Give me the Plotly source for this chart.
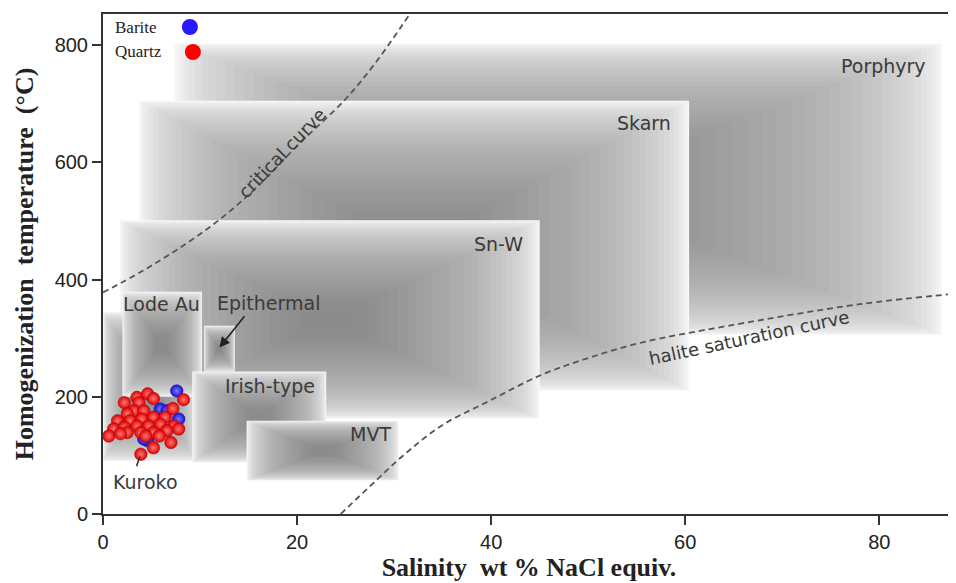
import plotly.graph_objects as go

# ---------------- data ----------------
# deposit-type fields: salinity (wt% NaCl eq.) range and temperature (°C) range
field_names = ["Porphyry", "Skarn", "Sn-W", "Epithermal", "Kuroko", "Lode Au", "Irish-type", "MVT"]
field_sal_min = [7.3, 3.7, 1.7, 10.4, 0.0, 2.0, 9.2, 14.8]
field_sal_max = [86.5, 60.4, 45.0, 13.6, 9.6, 10.2, 23.0, 30.5]
field_t_min = [305, 210, 162, 243, 90, 200, 88, 57]
field_t_max = [803, 705, 501, 321, 345, 379, 243, 159]

# field label positions
label_text = ["Porphyry", "Skarn", "Sn-W", "Lode Au", "Epithermal", "Irish-type", "MVT", "Kuroko"]
label_x = [80.4, 55.8, 40.8, 6.0, 17.1, 17.2, 27.6, 4.4]
label_y = [764, 667, 461, 358, 360, 218, 136, 54]

# curves
critical_sal = [0, 4, 8, 12, 16, 20, 25, 28, 31.5, 32.5]
critical_t = [378, 414, 455, 502, 560, 628, 708, 768, 850, 875]
halite_sal = [24.5, 28, 31.3, 35, 39.7, 45, 50, 55.4, 64.4, 78, 88]
halite_t = [0, 55, 105, 152, 192, 236, 266, 292, 321, 358, 376]

# fluid inclusion measurements
barite_sal = [7.6, 5.9, 6.6, 7.8, 4.6, 4.2]
barite_t = [210, 179, 176, 162, 125, 128]
quartz_sal = [8.3, 2.2, 3.5, 4.6, 5.2, 3.7, 3.2, 4.2, 2.5, 1.5, 2.8, 4.0, 5.2, 6.4, 7.2,
              1.1, 2.2, 3.5, 4.7, 5.9, 7.3, 2.5, 3.9, 5.2, 6.6, 7.8, 0.6, 1.8, 4.4,
              5.8, 7.0, 5.2, 3.9]
quartz_t = [195, 190, 199, 205, 197, 190, 176, 176, 171, 159, 159, 162, 165, 165, 180,
            145, 148, 150, 150, 153, 150, 139, 139, 139, 142, 145, 133, 137, 133,
            133, 122, 113, 102]

x_ticks = [0, 20, 40, 60, 80]
y_ticks = [0, 200, 400, 600, 800]

# ---------------- figure ----------------
fig = go.Figure()

shapes = []
N = 30
for x0, x1, y0, y1 in zip(field_sal_min, field_sal_max, field_t_min, field_t_max):
    w = x1 - x0
    h = y1 - y0
    shapes.append(dict(type="rect", xref="x", yref="y", x0=x0, x1=x1, y0=y0, y1=y1,
                       fillcolor="rgb(251,251,251)", line=dict(width=0), layer="below"))
    for k in range(N):
        t = 0.43 * ((k + 1) / N) ** 1.7
        shapes.append(dict(type="rect", xref="x", yref="y",
                           x0=x0 + t * w, x1=x1 - t * w, y0=y0 + t * h, y1=y1 - t * h,
                           fillcolor="rgba(55,55,55,0.028)", line=dict(width=0), layer="below"))

# legend keys (pixel-sized circles)
shapes.append(dict(type="circle", xref="paper", yref="paper", xsizemode="pixel", ysizemode="pixel",
                   xanchor=0.102, yanchor=0.974, x0=-8, x1=8, y0=-8, y1=8,
                   fillcolor="rgb(40,25,255)", line=dict(width=0)))
shapes.append(dict(type="circle", xref="paper", yref="paper", xsizemode="pixel", ysizemode="pixel",
                   xanchor=0.1055, yanchor=0.924, x0=-8, x1=8, y0=-8, y1=8,
                   fillcolor="rgb(255,0,0)", line=dict(width=0)))

curve_style = dict(color="#555555", width=1.8, dash="6px,4px", shape="spline")
fig.add_trace(go.Scatter(x=critical_sal, y=critical_t, mode="lines", line=curve_style,
                         name="critical curve", showlegend=False, hoverinfo="skip"))
fig.add_trace(go.Scatter(x=halite_sal, y=halite_t, mode="lines", line=curve_style,
                         name="halite saturation curve", showlegend=False, hoverinfo="skip"))

fig.add_trace(go.Scatter(x=barite_sal, y=barite_t, mode="markers", name="Barite", showlegend=False,
                         marker=dict(size=12.5, color="rgb(25,15,215)",
                                     gradient=dict(type="radial", color="rgb(120,120,255)"),
                                     line=dict(width=0.5, color="rgb(10,10,150)"))))
fig.add_trace(go.Scatter(x=quartz_sal, y=quartz_t, mode="markers", name="Quartz", showlegend=False,
                         marker=dict(size=12.5, color="rgb(225,0,0)",
                                     gradient=dict(type="radial", color="rgb(255,120,120)"),
                                     line=dict(width=0.5, color="rgb(160,0,0)"))))

annotations = []
lab_font = dict(family="DejaVu Sans", size=19, color="#3a3a3a")
for txt, lx, ly in zip(label_text, label_x, label_y):
    annotations.append(dict(x=lx, y=ly, xref="x", yref="y", text=txt, showarrow=False, font=lab_font))

annotations.append(dict(x=18.4, y=615, xref="x", yref="y", text="critical curve", showarrow=False,
                        textangle=-46, font=dict(family="DejaVu Sans", size=18, color="#3a3a3a")))
annotations.append(dict(x=66.6, y=301, xref="x", yref="y", text="halite saturation curve", showarrow=False,
                        textangle=-12, font=dict(family="DejaVu Sans", size=18, color="#3a3a3a")))

# Epithermal arrow
annotations.append(dict(x=12.0, y=284, ax=14.7, ay=340, xref="x", yref="y", axref="x", ayref="y",
                        text="", showarrow=True, arrowhead=2, arrowsize=1.3, arrowwidth=1.6,
                        arrowcolor="#222222"))
# Kuroko leader line
annotations.append(dict(x=3.8, y=98, ax=3.4, ay=79, xref="x", yref="y", axref="x", ayref="y",
                        text="", showarrow=True, arrowhead=0, arrowwidth=1.6, arrowcolor="#333333"))

# legend text
leg_font = dict(family="Liberation Serif", size=17, color="#222222")
annotations.append(dict(x=0.012, y=0.974, xref="paper", yref="paper", text="Barite", showarrow=False,
                        xanchor="left", yanchor="middle", font=leg_font))
annotations.append(dict(x=0.012, y=0.924, xref="paper", yref="paper", text="Quartz", showarrow=False,
                        xanchor="left", yanchor="middle", font=leg_font))

axis_common = dict(showgrid=False, zeroline=False, showline=True, linecolor="#333333", linewidth=2,
                   ticks="outside", ticklen=9, tickwidth=1.5, tickcolor="#333333",
                   tickfont=dict(family="Liberation Sans", size=20, color="#222222"),
                   automargin=False)

# the page body adds an 8px offset, so the figure is sized to fit the window
fig.update_layout(
    width=948, height=575,
    margin=dict(l=95, r=1, t=6, b=69),
    paper_bgcolor="white", plot_bgcolor="white",
    shapes=shapes, annotations=annotations,
    xaxis=dict(range=[0, 87.8], tickvals=x_ticks, mirror=True,
               title=dict(text="Salinity  wt % NaCl equiv.", standoff=4,
                          font=dict(family="Liberation Serif", size=26, color="#222222", weight="bold")),
               **axis_common),
    yaxis=dict(range=[0, 853], tickvals=y_ticks, mirror=False,
               title=dict(text="Homogenization  temperature  (°C)", standoff=14,
                          font=dict(family="Liberation Serif", size=26, color="#222222", weight="bold")),
               **axis_common),
)

fig.write_html("out.html")
